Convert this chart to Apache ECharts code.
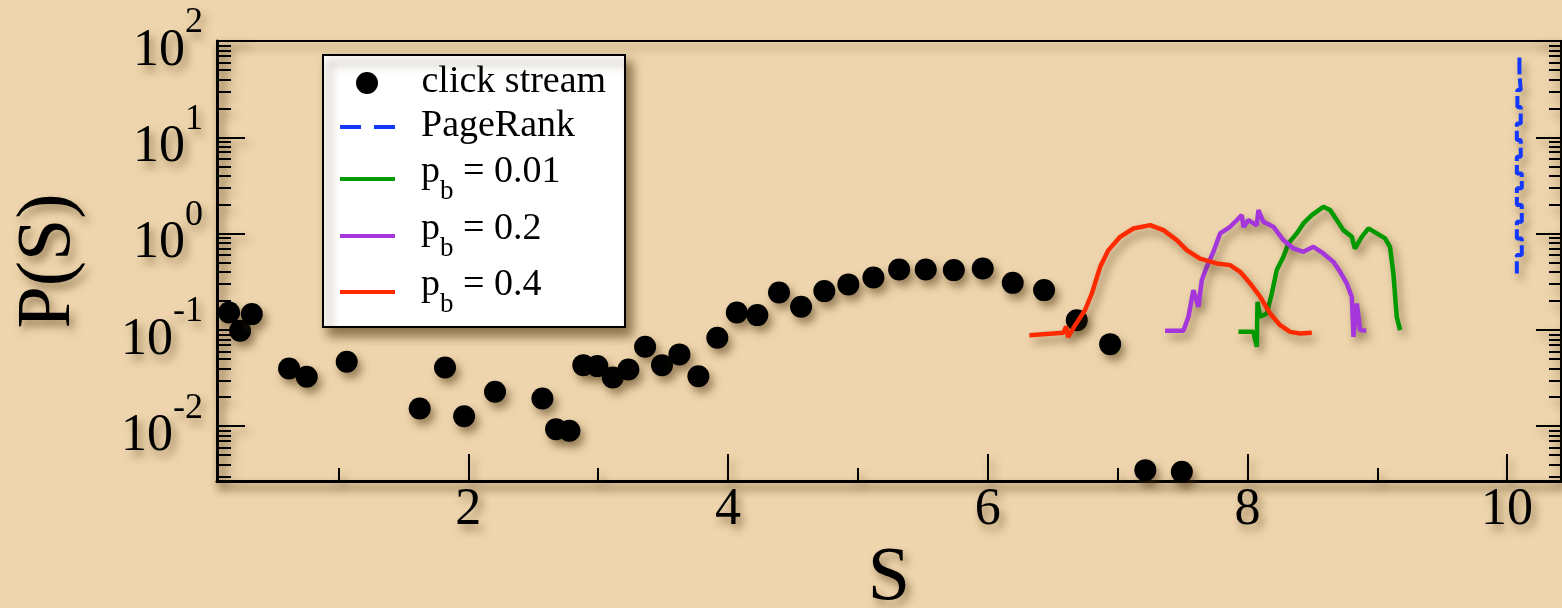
<!DOCTYPE html>
<html>
<head>
<meta charset="utf-8">
<script src="https://cdn.jsdelivr.net/npm/echarts@6/dist/echarts.min.js"></script>
<style>
  html, body { margin: 0; padding: 0; background: #eed5ad; }
  #chart { width: 1562px; height: 608px; }
</style>
</head>
<body>
<div id="chart"></div>
<script>
// Measured click-stream distribution: [S, P(S)]
const clickStream = [
  [0.158, 0.152], [0.243, 0.098], [0.333, 0.146], [0.620, 0.0398], [0.756, 0.0326],
  [1.064, 0.0467], [1.626, 0.0153], [1.821, 0.0408], [1.968, 0.0127], [2.206, 0.0228],
  [2.571, 0.0194], [2.676, 0.00933], [2.779, 0.00896], [2.886, 0.0431], [2.994, 0.0421],
  [3.113, 0.0321], [3.233, 0.0389], [3.362, 0.0668], [3.492, 0.0431], [3.626, 0.0557],
  [3.772, 0.0331], [3.918, 0.0828], [4.068, 0.152], [4.226, 0.1425], [4.393, 0.245],
  [4.563, 0.174], [4.742, 0.253], [4.927, 0.297], [5.120, 0.351], [5.318, 0.425],
  [5.523, 0.425], [5.739, 0.418], [5.962, 0.435], [6.193, 0.308], [6.434, 0.259],
  [6.686, 0.126], [6.943, 0.0712], [7.214, 0.0035], [7.495, 0.00336]
];

// PageRank: a narrow stepped profile near S = 10.1
const pageRank = [
  [10.095, 67.6], [10.095, 46.1], [10.105, 46.1], [10.105, 30.9], [10.079, 30.9],
  [10.079, 20.7], [10.105, 20.7], [10.105, 13.9], [10.075, 13.9], [10.075, 9.35],
  [10.105, 9.35], [10.105, 6.28], [10.075, 6.28], [10.075, 4.22], [10.113, 4.22],
  [10.113, 2.95], [10.075, 2.95], [10.075, 1.98], [10.113, 1.98], [10.113, 1.33],
  [10.075, 1.33], [10.075, 0.892], [10.113, 0.892], [10.113, 0.598], [10.075, 0.598],
  [10.075, 0.386]
];

// Model with back-step probability p_b = 0.01
const pb001 = [
  [7.931, 0.0955], [8.046, 0.0955], [8.072, 0.0667], [8.078, 0.196], [8.098, 0.137],
  [8.149, 0.148], [8.188, 0.239], [8.226, 0.418], [8.277, 0.574], [8.316, 0.791],
  [8.380, 1.005], [8.431, 1.276], [8.496, 1.556], [8.585, 1.898], [8.637, 1.754],
  [8.688, 1.381], [8.739, 1.087], [8.804, 0.926], [8.827, 0.700], [8.843, 0.760],
  [8.881, 0.926], [8.932, 1.132], [8.996, 1.005], [9.060, 0.891], [9.098, 0.729],
  [9.124, 0.386], [9.150, 0.137], [9.176, 0.0995]
];

// Model with p_b = 0.2
const pb02 = [
  [7.366, 0.098], [7.507, 0.098], [7.546, 0.137], [7.584, 0.259], [7.623, 0.174],
  [7.649, 0.329], [7.687, 0.452], [7.738, 0.647], [7.790, 1.005], [7.867, 1.178],
  [7.957, 1.556], [7.970, 1.17], [8.008, 1.381], [8.072, 1.22], [8.085, 1.754],
  [8.123, 1.327], [8.200, 1.178], [8.277, 0.857], [8.354, 0.702], [8.431, 0.647],
  [8.508, 0.729], [8.585, 0.623], [8.662, 0.509], [8.714, 0.401], [8.765, 0.304],
  [8.804, 0.221], [8.817, 0.0848], [8.843, 0.188], [8.868, 0.0995], [8.915, 0.098]
];

// Model with p_b = 0.4
const pb04 = [
  [6.321, 0.0883], [6.583, 0.0933], [6.604, 0.109], [6.619, 0.0842], [6.673, 0.112],
  [6.750, 0.161], [6.802, 0.239], [6.866, 0.452], [6.930, 0.674], [7.020, 0.926],
  [7.122, 1.13], [7.251, 1.225], [7.353, 1.087], [7.456, 0.857], [7.533, 0.674],
  [7.635, 0.550], [7.764, 0.490], [7.867, 0.471], [7.944, 0.401], [8.021, 0.304],
  [8.098, 0.221], [8.175, 0.148], [8.252, 0.112], [8.329, 0.0955], [8.406, 0.092],
  [8.496, 0.0933]
];

// Axis ranges and tick values
const xRange = [0.065, 10.415];
const yRange = [0.0027, 100];
const xMajorTicks = [2, 4, 6, 8, 10];
const xMinorTicks = [1, 3, 5, 7, 9];
const yMajorTicks = [0.01, 0.1, 1, 10, 100];
const yMinorSteps = [2, 3, 4, 5, 6, 7, 8, 9];

const yMinorTicks = [];
[0.001, 0.01, 0.1, 1, 10].forEach(function (decade) {
  yMinorSteps.forEach(function (k) {
    const v = +(k * decade).toPrecision(3);
    if (v > yRange[0] && v < yRange[1]) yMinorTicks.push(v);
  });
});

const FONT = '"Liberation Serif", "Times New Roman", serif';
const SHADOW = 'rgba(70, 45, 10, 0.5)';
const textShadow = { textShadowColor: SHADOW, textShadowBlur: 9, textShadowOffsetX: 4, textShadowOffsetY: 6 };
const lineShadow = { shadowColor: SHADOW, shadowBlur: 9, shadowOffsetX: 4, shadowOffsetY: 6 };

const chart = echarts.init(document.getElementById('chart'), null, { renderer: 'canvas' });

function minorYAxis(position, length) {
  return {
    type: 'log', position: position, min: yRange[0], max: yRange[1],
    axisLine: { show: false },
    axisTick: { show: true, inside: true, length: length, customValues: yMinorTicks,
      lineStyle: Object.assign({ color: '#000', width: 2 }, lineShadow) },
    axisLabel: { show: false },
    splitLine: { show: false }
  };
}

// Legend rows: series name -> rich label
const legendLabels = {
  'click stream': '{p1|click stream}',
  'PageRank': '{p0|PageRank}',
  'pb001': '{p0|p}{s|b}{t| = 0.01}',
  'pb02': '{p0|p}{s|b}{t| = 0.2}',
  'pb04': '{p0|p}{s|b}{t| = 0.4}'
};

const legendRich = {
  p0: { fontFamily: FONT, fontSize: 38, color: '#000', lineHeight: 40, verticalAlign: 'top', padding: [0, 0, 0, 21] },
  p1: { fontFamily: FONT, fontSize: 38, color: '#000', lineHeight: 40, verticalAlign: 'top', padding: [0, 0, 0, 22] },
  t: { fontFamily: FONT, fontSize: 38, color: '#000', lineHeight: 40, verticalAlign: 'top' },
  s: { fontFamily: FONT, fontSize: 27, color: '#000', lineHeight: 52, verticalAlign: 'bottom' }
};

function legendRow(name, left, top, extra) {
  return Object.assign({
    data: [name], left: left, top: top, orient: 'vertical', padding: 0, itemGap: 0,
    itemWidth: 55, itemHeight: 22, selectedMode: false, z: 10,
    itemStyle: { color: 'rgba(0,0,0,0)', borderWidth: 0, opacity: 0 },
    formatter: function (n) { return legendLabels[n]; },
    textStyle: { fontFamily: FONT, fontSize: 38, color: '#000', rich: legendRich }
  }, extra || {});
}

const option = {
  backgroundColor: '#eed5ad',
  animation: false,
  grid: {
    left: 217, top: 41, right: 1, bottom: 127,
    outerBoundsMode: 'none', containLabel: false,
    show: true, backgroundColor: 'transparent', borderColor: '#000', borderWidth: 2,
    shadowColor: SHADOW, shadowBlur: 9, shadowOffsetX: 4, shadowOffsetY: 6
  },
  graphic: [{
    type: 'rect', left: 322, top: 54, z: 5,
    shape: { width: 302, height: 272 },
    style: { fill: '#fff', stroke: '#000', lineWidth: 2,
      shadowColor: 'rgba(70, 45, 10, 0.6)', shadowBlur: 10, shadowOffsetX: 6, shadowOffsetY: 8 }
  }],
  legend: [
    legendRow('click stream', 356, 63, { itemStyle: { color: '#000' } }),
    legendRow('PageRank', 338, 107, { lineStyle: { width: 4, type: [21, 13] } }),
    legendRow('pb001', 338, 153, { lineStyle: { width: 4 } }),
    legendRow('pb02', 338, 210, { lineStyle: { width: 4 } }),
    legendRow('pb04', 338, 266, { lineStyle: { width: 4 } })
  ],
  xAxis: [{
    type: 'value', position: 'bottom', min: xRange[0], max: xRange[1],
    axisLine: { show: true, onZero: false, lineStyle: Object.assign({ color: '#000', width: 3 }, lineShadow) },
    axisTick: { show: true, inside: true, length: 27, customValues: xMajorTicks,
      lineStyle: Object.assign({ color: '#000', width: 2 }, lineShadow) },
    axisLabel: Object.assign({ customValues: xMajorTicks, fontFamily: FONT, fontSize: 52, color: '#000', margin: 3 }, textShadow),
    splitLine: { show: false },
    name: 'S', nameLocation: 'middle', nameGap: 51,
    nameTextStyle: Object.assign({ fontFamily: FONT, fontSize: 76, color: '#000' }, textShadow)
  }, {
    type: 'value', position: 'bottom', min: xRange[0], max: xRange[1],
    axisLine: { show: false },
    axisTick: { show: true, inside: true, length: 13, customValues: xMinorTicks,
      lineStyle: Object.assign({ color: '#000', width: 2 }, lineShadow) },
    axisLabel: { show: false },
    splitLine: { show: false }
  }],
  yAxis: [{
    type: 'log', position: 'left', min: yRange[0], max: yRange[1],
    axisLine: { show: true, onZero: false, lineStyle: Object.assign({ color: '#000', width: 3 }, lineShadow) },
    axisTick: { show: true, inside: true, length: 28, customValues: yMajorTicks,
      lineStyle: Object.assign({ color: '#000', width: 2 }, lineShadow) },
    axisLabel: Object.assign({
      customValues: yMajorTicks, margin: 14, color: '#000', fontFamily: FONT,
      formatter: function (v) {
        const e = Math.round(Math.log10(v));
        return '{b|10}{e|' + e + '}';
      },
      rich: {
        b: Object.assign({ fontFamily: FONT, fontSize: 52, color: '#000', lineHeight: 72, verticalAlign: 'bottom' }, textShadow),
        e: Object.assign({ fontFamily: FONT, fontSize: 36, color: '#000', lineHeight: 36, verticalAlign: 'top' }, textShadow)
      }
    }, textShadow),
    splitLine: { show: false },
    minorTick: { show: false },
    name: 'P(S)', nameLocation: 'middle', nameRotate: 90, nameGap: 130,
    nameTextStyle: Object.assign({ fontFamily: FONT, fontSize: 76, color: '#000' }, textShadow)
  },
  minorYAxis('left', 14),
  {
    type: 'log', position: 'right', min: yRange[0], max: yRange[1],
    axisLine: { show: false },
    axisTick: { show: true, inside: true, length: 25, customValues: yMajorTicks,
      lineStyle: Object.assign({ color: '#000', width: 2 }, lineShadow) },
    axisLabel: { show: false },
    splitLine: { show: false }
  },
  minorYAxis('right', 12)
  ],
  series: [{
    name: 'click stream', type: 'scatter', data: clickStream,
    symbol: 'circle', symbolSize: 22,
    itemStyle: Object.assign({ color: '#000', opacity: 1 }, lineShadow)
  }, {
    name: 'PageRank', type: 'line', data: pageRank, symbol: 'none',
    lineStyle: Object.assign({ color: '#1438ff', width: 4, type: [17, 4] }, lineShadow),
    itemStyle: { color: '#1438ff' }
  }, {
    name: 'pb001', type: 'line', data: pb001, symbol: 'none',
    lineStyle: Object.assign({ color: '#009900', width: 4.5 }, lineShadow),
    itemStyle: { color: '#009900' }
  }, {
    name: 'pb02', type: 'line', data: pb02, symbol: 'none',
    lineStyle: Object.assign({ color: '#a436dc', width: 4.5 }, lineShadow),
    itemStyle: { color: '#a436dc' }
  }, {
    name: 'pb04', type: 'line', data: pb04, symbol: 'none',
    lineStyle: Object.assign({ color: '#ff2a00', width: 4.5 }, lineShadow),
    itemStyle: { color: '#ff2a00' }
  }]
};

chart.setOption(option);
</script>
</body>
</html>
